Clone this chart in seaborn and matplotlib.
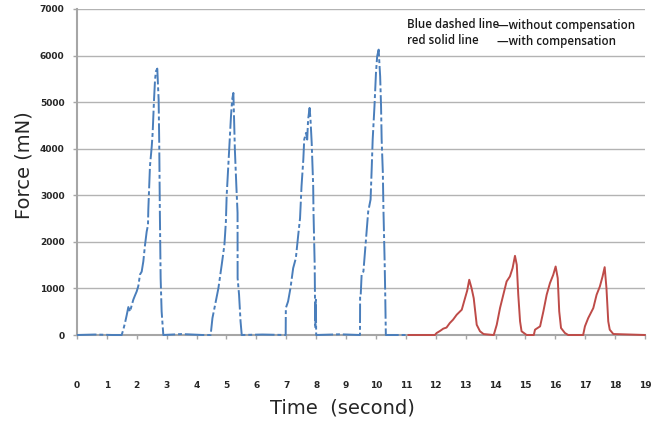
import pandas as pd
import matplotlib
matplotlib.use('Agg')
import matplotlib.pyplot as plt
import seaborn as sns

sns.set_style('white')
plt.rcParams['font.family'] = ['DejaVu Sans']

# blue: without compensation (time in s, force in mN)
blue_time = [0, 0.6, 1.2, 1.494, 1.55, 1.605, 1.66, 1.717, 1.773, 1.83, 1.884, 1.94, 1.996, 2.05,
             2.107, 2.163, 2.218, 2.274, 2.33, 2.374, 2.385, 2.44, 2.5, 2.53, 2.576, 2.61, 2.64,
             2.685, 2.71, 2.73, 2.75, 2.77, 2.797, 2.83, 2.887,
             3.5, 4.2, 4.47, 4.53, 4.62, 4.73, 4.84, 4.93, 4.98, 5.005, 5.09, 5.15, 5.19, 5.23,
             5.245, 5.26, 5.28, 5.33, 5.37, 5.372, 5.42, 5.47, 5.51,
             6.2, 6.98, 6.985, 7.06, 7.14, 7.23, 7.32, 7.4, 7.46, 7.51, 7.57, 7.6, 7.66, 7.7,
             7.73, 7.78, 7.81, 7.85, 7.9, 7.91, 7.95, 7.96, 7.97, 7.99, 8.0,
             8.8, 9.465, 9.47, 9.49, 9.52, 9.58, 9.66, 9.74, 9.82, 9.86, 9.89, 9.95, 10.0, 10.04,
             10.09, 10.12, 10.14, 10.17, 10.19, 10.23, 10.25, 10.29, 10.31, 10.33, 11.08]
blue_force = [0, 10, 0, 0, 120, 260, 420, 600, 500, 640, 760, 850, 935, 1050,
              1300, 1360, 1580, 1930, 2220, 2360, 2695, 3625, 4054, 4340, 5055, 5484, 5663,
              5720, 5340, 5055, 4125, 2695, 1221, 507, 0,
              20, 0, 0, 364, 650, 1007, 1507, 1935, 2435, 2980, 3982, 4697, 5055, 5198,
              4840, 4483, 3982, 3196, 2624, 1221, 865, 293, 0,
              10, 0, 578, 721, 1007, 1435, 1650, 2150, 2506, 3196, 3768, 4197, 4340, 4197,
              4626, 4876, 4626, 4125, 3196, 2650, 1507, 793, 150, 757, 0,
              15, 0, 864, 864, 1293, 1364, 2006, 2650, 2910, 3625, 4197, 4912, 5627, 5985,
              6128, 5770, 5556, 4912, 4197, 3482, 2695, 1579, 864, 0, 0]

# red: with compensation
red_time = [11.08, 11.97, 12.03, 12.15, 12.25, 12.36, 12.47, 12.58, 12.70, 12.87, 12.98, 13.05,
            13.12, 13.2, 13.27, 13.37, 13.48, 13.6, 13.92,
            13.94, 14.04, 14.15, 14.26, 14.37, 14.48, 14.57, 14.65, 14.71, 14.76, 14.82, 14.87, 15.04,
            15.28, 15.32, 15.49, 15.6, 15.71, 15.82, 15.93, 16.01, 16.08, 16.13, 16.19, 16.32, 16.43,
            16.93, 16.99, 17.1, 17.27, 17.38, 17.49, 17.58, 17.65, 17.71, 17.77, 17.82, 17.94, 19.0]
red_force = [0, 0, 43, 90, 136, 160, 257, 330, 435, 543, 793, 950,
             1186, 1000, 790, 220, 80, 20, 0,
             0, 220, 580, 865, 1150, 1257, 1435, 1700, 1507, 864, 293, 80, 0,
             0, 114, 186, 507, 864, 1114, 1293, 1471, 1221, 507, 150, 43, 0,
             0, 186, 364, 578, 864, 1043, 1257, 1457, 1007, 293, 114, 21, 0]

x_ticks = list(range(0, 20))
y_ticks = list(range(0, 7001, 1000))

blue = pd.DataFrame({'time': blue_time, 'force': blue_force})
red = pd.DataFrame({'time': red_time, 'force': red_force})

fig, ax = plt.subplots(figsize=(6.68, 4.24), dpi=100)
fig.subplots_adjust(left=0.1153, right=0.9656, bottom=0.2099, top=0.9788)

ax.yaxis.grid(True, color='#b3b3b3', linewidth=1)
ax.set_axisbelow(True)

sns.lineplot(data=blue, x='time', y='force', ax=ax, color='#4a7ebb', linewidth=1.4,
             estimator=None, sort=False, linestyle=(0, (10, 1.5, 2, 1.5)),
             zorder=3, clip_on=False)
sns.lineplot(data=red, x='time', y='force', ax=ax, color='#be4b48', linewidth=1.4,
             estimator=None, sort=False, zorder=3, clip_on=False)

ax.set_xlim(0, 19)
ax.set_ylim(0, 7000)
ax.set_xticks(x_ticks)
ax.set_xticklabels([str(t) for t in x_ticks], fontweight='bold', fontsize=6.5)
ax.set_yticks(y_ticks)
ax.set_yticklabels([str(t) for t in y_ticks], fontweight='bold', fontsize=6.5)
ax.tick_params(axis='x', length=3, width=1, color='#a6a6a6', pad=30, bottom=True)
ax.tick_params(axis='y', length=3, width=1, color='#a6a6a6', pad=6, left=True)

for s in ['top', 'right']:
    ax.spines[s].set_visible(False)
for s in ['left', 'bottom']:
    ax.spines[s].set_color('#a6a6a6')
    ax.spines[s].set_linewidth(1.5)

ax.set_xlabel('Time  (second)', fontsize=14)
ax.xaxis.set_label_coords((342 - 77) / 568, (335 - 398) / 326)
ax.set_ylabel('Force (mN)', fontsize=14)
ax.yaxis.set_label_coords((33 - 77) / 568, (335 - 165) / 326)

txt = dict(fontsize=8.3, fontweight='semibold', color='#1a1a1a', va='center',
           family=['Open Sans', 'DejaVu Sans'])
fig.text(407 / 668, 1 - 25 / 424, 'Blue dashed line', **txt)
fig.text(497 / 668, 1 - 25 / 424, '\u2014without compensation', **txt)
fig.text(407 / 668, 1 - 41 / 424, 'red solid line', **txt)
fig.text(497 / 668, 1 - 41 / 424, '\u2014with compensation', **txt)

fig.savefig('out.png', dpi=100)
